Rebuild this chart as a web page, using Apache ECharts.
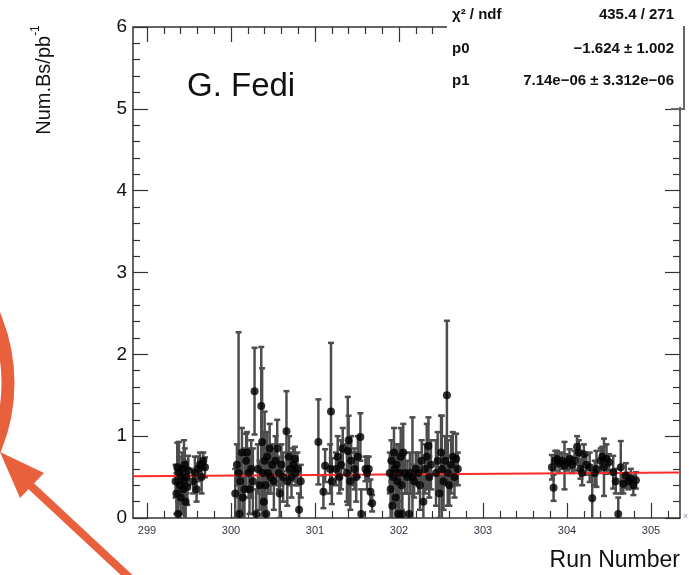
<!DOCTYPE html>
<html><head><meta charset="utf-8">
<script src="https://cdn.jsdelivr.net/npm/echarts@6/dist/echarts.min.js"></script>
<style>html,body{margin:0;padding:0;background:#fff}#c{width:689px;height:575px}</style>
</head><body><div id="c"></div>
<script>
// Run number (x10^3), value, error
const groupA = [[299.34,0.45,0.20],[299.35,0.30,0.25],[299.36,0.62,0.30],[299.37,0.05,0.15],[299.38,0.55,0.38],[299.39,0.40,0.20],[299.40,0.25,0.20],[299.41,0.50,0.25],[299.42,0.60,0.20],[299.43,0.35,0.30],[299.44,0.45,0.50],[299.45,0.65,0.20],[299.46,0.20,0.25],[299.47,0.50,0.20],[299.48,0.38,0.22],[299.49,0.58,0.18]];
const groupB = [[299.55,0.45,0.15],[299.57,0.55,0.20],[299.59,0.35,0.15],[299.61,0.60,0.15],[299.63,0.65,0.15],[299.65,0.50,0.20],[299.67,0.70,0.10],[299.69,0.62,0.12]];
const groupC = [[300.05,0.30,0.30],[300.07,0.65,0.25],[300.09,0.55,1.72],[300.10,0.05,0.20],[300.11,0.45,0.35],[300.13,0.80,0.30],[300.14,0.25,0.30],[300.16,0.35,0.50],[300.18,0.70,0.33],[300.19,0.80,0.25],
[300.21,0.55,0.30],[300.22,0.35,0.30],[300.24,0.60,0.35],[300.26,0.45,0.40],[300.28,1.55,0.53],[300.30,0.05,0.30],[300.32,0.60,0.30],[300.34,0.40,0.30],[300.36,1.37,0.72],[300.37,0.93,0.90],
[300.38,0.55,0.50],[300.39,0.20,0.30],[300.40,0.70,0.60],[300.41,0.40,0.35],[300.42,0.05,0.25],[300.43,0.75,0.30],[300.44,0.55,0.25],[300.46,0.85,0.30],[300.47,0.50,0.20],[300.49,0.65,0.25],
[300.51,0.45,0.35],[300.53,0.70,0.30],[300.55,0.85,0.35],[300.57,0.55,0.20],[300.58,0.30,0.30],[300.60,0.65,0.25],[300.62,0.50,0.30],[300.66,1.06,0.49],[300.67,0.45,0.30],[300.69,0.75,0.25],
[300.70,0.60,0.20],[300.72,0.50,0.25],[300.74,0.65,0.20],[300.76,0.72,0.15],[300.77,0.55,0.15],[300.79,0.60,0.20],[300.81,0.10,0.20],[300.83,0.45,0.20]];
const groupD = [[301.04,0.93,0.52],[301.10,0.32,0.20],[301.12,0.64,0.20],[301.18,0.60,0.30],[301.19,1.30,0.84],[301.20,0.45,0.28],[301.25,0.60,0.20],[301.27,0.75,0.25],[301.29,0.50,0.20],[301.31,0.65,0.30],[301.33,0.85,0.25],[301.38,0.55,0.35],[301.39,0.82,0.66],[301.40,0.95,0.30],[301.42,0.45,0.35],[301.43,0.70,0.30],[301.47,0.60,0.25],[301.49,0.50,0.30],[301.51,0.75,0.25],[301.54,0.99,0.29],[301.55,0.05,0.30],[301.60,0.60,0.15],[301.62,0.55,0.20],[301.64,0.60,0.15],[301.66,0.32,0.15],[301.68,0.18,0.10]];
const groupE = [[301.89,0.55,0.25],[301.90,0.35,0.35],[301.91,0.70,0.25],[301.92,0.15,0.40],[301.93,0.50,0.30],[301.94,0.80,0.30],[301.95,0.60,0.20],[301.96,0.25,0.30],[301.97,0.65,0.25],[301.98,0.45,0.30],[301.99,0.05,0.30],[302.00,0.55,0.35],[302.02,0.75,0.35],[302.03,0.40,0.30],[302.04,0.05,0.25],[302.05,0.80,0.35],[302.07,0.55,0.25],
[302.10,0.50,0.20],[302.12,0.05,0.25],[302.13,0.55,0.25],[302.16,0.50,0.73],[302.18,0.45,0.20],[302.20,0.60,0.20],
[302.23,0.55,0.25],[302.25,0.40,0.30],[302.27,0.70,0.25],[302.29,0.20,0.35],[302.31,0.60,0.30],[302.33,0.75,0.40],[302.35,0.88,0.35],[302.36,0.50,0.25],[302.38,0.65,0.30],
[302.44,0.55,0.40],[302.46,0.70,0.35],[302.48,0.30,0.30],[302.50,0.80,0.45],[302.51,0.60,0.65],[302.53,0.45,0.35],[302.55,0.70,0.30],[302.57,1.50,0.91],[302.58,0.55,0.40],[302.60,0.40,0.25],[302.62,0.65,0.35],[302.64,0.75,0.30],[302.66,0.50,0.25],[302.68,0.72,0.31],[302.70,0.60,0.20]];
const groupF = [[303.82,0.62,0.15],[303.84,0.37,0.16],[303.86,0.70,0.12],[303.88,0.72,0.10],[303.91,0.67,0.12],[303.94,0.70,0.10],[303.97,0.64,0.29],[304.00,0.68,0.10],[304.03,0.72,0.12],[304.06,0.65,0.10],[304.09,0.70,0.12],[304.12,0.87,0.13],[304.14,0.80,0.15],[304.16,0.60,0.12],[304.18,0.55,0.15],[304.20,0.78,0.12],[304.23,0.65,0.12],[304.27,0.62,0.18],[304.30,0.24,0.28],[304.33,0.55,0.15],[304.35,0.60,0.22],[304.40,0.70,0.15],[304.42,0.75,0.12],[304.44,0.62,0.35],[304.47,0.72,0.18],[304.50,0.68,0.10],[304.55,0.56,0.20],[304.58,0.45,0.15],[304.61,0.05,0.20],[304.64,0.62,0.32],[304.67,0.42,0.12],[304.70,0.52,0.15],[304.73,0.45,0.10],[304.76,0.48,0.12],[304.79,0.40,0.12],[304.82,0.46,0.10]];

const fitX = [298.833, 305.345];
const fitY = [0.510, 0.556];
const xMajorTicks = [299, 300, 301, 302, 303, 304, 305];
const xMinorTicks = [];
for (let k = 0; k <= 31; k++) { const v = +(299 + k * 0.2).toFixed(1); if (v < 305.345 && Math.abs(v - Math.round(v)) > 0.01) xMinorTicks.push(v); }

const points = [].concat(groupA, groupB, groupC, groupD, groupE, groupF);
const FONT = '"Liberation Sans", Arial, Helvetica, sans-serif';
const TC = '#333';

const chart = echarts.init(document.getElementById('c'));
function xAx(pos, ticks, len, labels) {
  return {
    type: 'value', min: fitX[0], max: fitX[1], position: pos,
    axisLine: { show: false },
    splitLine: { show: false },
    axisTick: { show: true, inside: true, length: len, customValues: ticks, lineStyle: { color: TC, width: 1.2 } },
    axisLabel: labels ? { show: true, customValues: ticks, fontSize: 11, color: '#334', fontFamily: FONT, margin: 7, formatter: v => String(Math.round(v)) } : { show: false }
  };
}
function yAx(pos, labels) {
  return {
    type: 'value', min: 0, max: 6, interval: 1, position: pos,
    axisLine: { show: false }, splitLine: { show: false },
    axisTick: { show: true, inside: true, length: 15, lineStyle: { color: TC, width: 1.2 } },
    minorTick: { show: true, splitNumber: 5, length: 7, lineStyle: { color: TC, width: 1.2 } },
    minorSplitLine: { show: false },
    axisLabel: labels ? { show: true, fontSize: 19, color: '#111', fontFamily: FONT, margin: 6 } : { show: false }
  };
}
const ORANGE = '#E8613C';
const SF = 'bold 15px ' + FONT;
chart.setOption({
  animation: false,
  grid: { left: 133, right: 9, top: 27, bottom: 57, show: true, borderColor: '#333', borderWidth: 1.5, backgroundColor: 'transparent' },
  xAxis: [xAx('bottom', xMajorTicks, 15, true), xAx('bottom', xMinorTicks, 7, false), xAx('top', xMajorTicks, 15, false), xAx('top', xMinorTicks, 7, false)],
  yAxis: [yAx('left', true), yAx('right', false)],
  series: [
    {
      type: 'custom', xAxisIndex: 0, yAxisIndex: 0, clip: true, z: 2,
      data: points.map(p => [p[0], p[1] - p[2], p[1] + p[2]]),
      encode: { x: 0, y: [1, 2] },
      renderItem: function (params, api) {
        const x = api.value(0);
        const a = api.coord([x, api.value(1)]);
        const b = api.coord([x, api.value(2)]);
        const c = 3;
        const st = { stroke: '#4d4d4d', lineWidth: 2.5 };
        return { type: 'group', children: [
          { type: 'line', shape: { x1: a[0], y1: a[1], x2: b[0], y2: b[1] }, style: st },
          { type: 'line', shape: { x1: b[0] - c, y1: b[1], x2: b[0] + c, y2: b[1] }, style: st },
          { type: 'line', shape: { x1: a[0] - c, y1: a[1], x2: a[0] + c, y2: a[1] }, style: st }
        ]};
      }
    },
    {
      type: 'line', xAxisIndex: 0, yAxisIndex: 0, z: 3, symbol: 'none',
      data: [[fitX[0], fitY[0]], [fitX[1], fitY[1]]],
      lineStyle: { color: '#ff2a2a', width: 2 }
    },
    {
      type: 'scatter', xAxisIndex: 0, yAxisIndex: 0, z: 4, symbol: 'circle', symbolSize: 8,
      data: points.map(p => [p[0], p[1]]),
      itemStyle: { color: '#000' }
    }
  ],
  graphic: [
    { type: 'rect', z: 100, shape: { x: 447, y: 0, width: 242, height: 107 }, style: { fill: '#fff' } },
    { type: 'line', z: 101, shape: { x1: 684, y1: 26, x2: 684, y2: 109 }, style: { stroke: '#666', lineWidth: 2 } },
    { type: 'line', z: 101, shape: { x1: 671, y1: 109, x2: 685, y2: 109 }, style: { stroke: '#666', lineWidth: 2 } },
    { type: 'text', z: 101, x: 452, y: 15, style: { text: 'χ² / ndf', font: SF, fill: '#111', textAlign: 'left', textVerticalAlign: 'middle' } },
    { type: 'text', z: 101, x: 674, y: 15, style: { text: '435.4 / 271', font: SF, fill: '#111', textAlign: 'right', textVerticalAlign: 'middle' } },
    { type: 'text', z: 101, x: 452, y: 49, style: { text: 'p0', font: SF, fill: '#111', textAlign: 'left', textVerticalAlign: 'middle' } },
    { type: 'text', z: 101, x: 674, y: 49, style: { text: '−1.624 ± 1.002', font: SF, fill: '#111', textAlign: 'right', textVerticalAlign: 'middle' } },
    { type: 'text', z: 101, x: 452, y: 81, style: { text: 'p1', font: SF, fill: '#111', textAlign: 'left', textVerticalAlign: 'middle' } },
    { type: 'text', z: 101, x: 674, y: 81, style: { text: '7.14e−06 ± 3.312e−06', font: SF, fill: '#111', textAlign: 'right', textVerticalAlign: 'middle' } },
    { type: 'text', z: 101, x: 187, y: 87, style: { text: 'G. Fedi', font: '33px ' + FONT, fill: '#111', textAlign: 'left', textVerticalAlign: 'middle' } },
    { type: 'text', z: 101, x: 42, y: 80, rotation: Math.PI / 2,
      style: { text: '{a|Num.Bs/pb}{b|-1}', textAlign: 'center', textVerticalAlign: 'middle',
        rich: { a: { fontSize: 20, fontFamily: FONT, fill: '#111', lineHeight: 24, verticalAlign: 'bottom' }, b: { fontSize: 12, fontFamily: FONT, fill: '#111', lineHeight: 24, verticalAlign: 'top' } } } },
    { type: 'text', z: 101, x: 680, y: 561, style: { text: 'Run Number', font: '23px ' + FONT, fill: '#111', textAlign: 'right', textVerticalAlign: 'middle' } },
    { type: 'text', z: 101, x: 683, y: 517, style: { text: '×10³', font: '9px ' + FONT, fill: '#8890a8', textAlign: 'left', textVerticalAlign: 'middle' } },
    { type: 'circle', z: 102, shape: { cx: -165, cy: 383, r: 173 }, style: { fill: 'none', stroke: ORANGE, lineWidth: 13 } },
    { type: 'line', z: 102, shape: { x1: 31, y1: 486, x2: 132, y2: 580 }, style: { stroke: ORANGE, lineWidth: 8 } },
    { type: 'polygon', z: 102, shape: { points: [[0, 452], [20, 498], [44, 473]] }, style: { fill: ORANGE } }
  ]
});
</script></body></html>
